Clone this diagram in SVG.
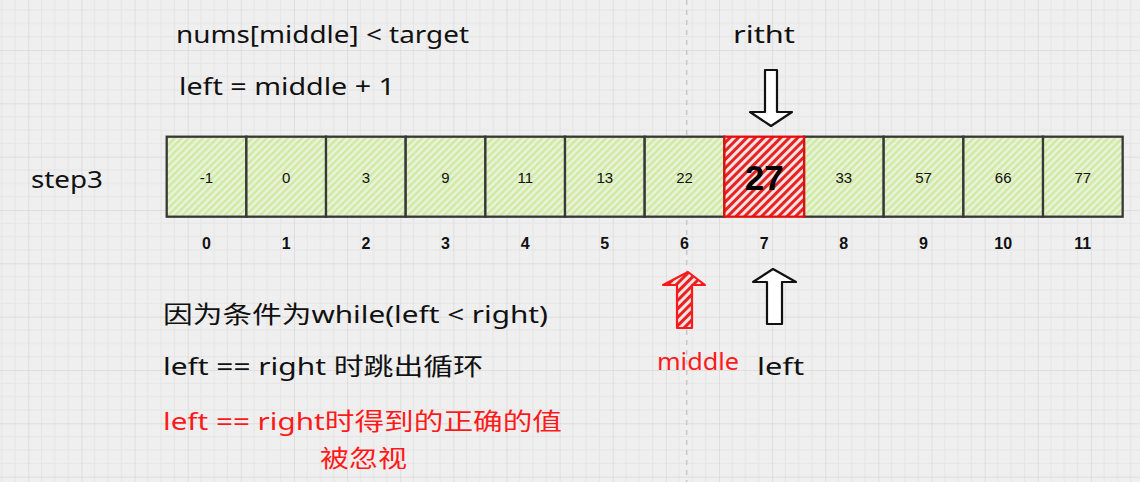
<svg xmlns="http://www.w3.org/2000/svg" width="1140" height="482" viewBox="0 0 1140 482">
<defs>
<pattern id="grid" patternUnits="userSpaceOnUse" x="28.3" y="50" width="53.13" height="53.33">
<rect width="53.13" height="53.33" fill="#efefef"/>
<path d="M13.28 0V53.33M26.56 0V53.33M39.85 0V53.33M0 13.33H53.13M0 26.67H53.13M0 40H53.13" stroke="#e5e5e5" stroke-width="1" fill="none"/>
<path d="M0 0V53.33M0 0H53.13" stroke="#d9d9d9" stroke-width="1.5" fill="none"/>
</pattern>
<pattern id="hg" patternUnits="userSpaceOnUse" width="5" height="5" patternTransform="rotate(45)">
<rect width="5" height="5" fill="#e9f2dc"/>
<rect width="2.4" height="5" fill="#cfea9f"/>
</pattern>
<pattern id="hr" patternUnits="userSpaceOnUse" width="6" height="6" patternTransform="rotate(45)">
<rect width="6" height="6" fill="#f5e2e2"/>
<rect width="3" height="6" fill="#e62222"/>
</pattern>
<style>
.t{font-family:"Noto Sans","Noto Sans CJK SC",sans-serif;font-size:24px;fill:#111}
.r{fill:#ff1a1a}
.v{font-family:"Liberation Sans",Arial,sans-serif;font-size:15px;fill:#111;text-anchor:middle}
.i{font-family:"Liberation Sans",Arial,sans-serif;font-size:16px;font-weight:bold;fill:#111;text-anchor:middle}
.c{fill:url(#hg);stroke:#383838;stroke-width:2.3}
</style>
</defs>
<rect width="1140" height="482" fill="url(#grid)"/>
<line x1="686.7" y1="0" x2="686.7" y2="482" stroke="#c8c8c8" stroke-width="1.5" stroke-dasharray="5,5"/>

<g id="header">
<text class="t" x="176" y="43" textLength="293" lengthAdjust="spacingAndGlyphs">nums[middle] &lt; target</text>
<text class="t" x="179" y="95" textLength="216" lengthAdjust="spacingAndGlyphs">left = middle + 1</text>
<text class="t" x="31" y="188" textLength="72" lengthAdjust="spacingAndGlyphs">step3</text>
</g>

<g id="array">
<g id="cell0"><rect class="c" x="166.7" y="136.7" width="79.67" height="80"/><text class="v" x="206.5" y="183">-1</text><text class="i" x="206.5" y="249">0</text></g>
<g id="cell1"><rect class="c" x="246.4" y="136.7" width="79.67" height="80"/><text class="v" x="286.2" y="183">0</text><text class="i" x="286.2" y="249">1</text></g>
<g id="cell2"><rect class="c" x="326" y="136.7" width="79.67" height="80"/><text class="v" x="365.9" y="183">3</text><text class="i" x="365.9" y="249">2</text></g>
<g id="cell3"><rect class="c" x="405.7" y="136.7" width="79.67" height="80"/><text class="v" x="445.5" y="183">9</text><text class="i" x="445.5" y="249">3</text></g>
<g id="cell4"><rect class="c" x="485.4" y="136.7" width="79.67" height="80"/><text class="v" x="525.2" y="183">11</text><text class="i" x="525.2" y="249">4</text></g>
<g id="cell5"><rect class="c" x="565" y="136.7" width="79.67" height="80"/><text class="v" x="604.8" y="183">13</text><text class="i" x="604.8" y="249">5</text></g>
<g id="cell6"><rect class="c" x="644.7" y="136.7" width="79.67" height="80"/><text class="v" x="684.5" y="183">22</text><text class="i" x="684.5" y="249">6</text></g>
<g id="cell8"><rect class="c" x="804" y="136.7" width="79.67" height="80"/><text class="v" x="843.8" y="183">33</text><text class="i" x="843.8" y="249">8</text></g>
<g id="cell9"><rect class="c" x="883.7" y="136.7" width="79.67" height="80"/><text class="v" x="923.5" y="183">57</text><text class="i" x="923.5" y="249">9</text></g>
<g id="cell10"><rect class="c" x="963.4" y="136.7" width="79.67" height="80"/><text class="v" x="1003.2" y="183">66</text><text class="i" x="1003.2" y="249">10</text></g>
<g id="cell11"><rect class="c" x="1043" y="136.7" width="79.67" height="80"/><text class="v" x="1082.8" y="183">77</text><text class="i" x="1082.8" y="249">11</text></g>
<g id="cell7"><rect x="724.4" y="136.7" width="79.67" height="80" fill="url(#hr)" stroke="#e01010" stroke-width="2.3"/><text x="764.2" y="190" font-family="Liberation Sans,Arial,sans-serif" font-size="35" font-weight="bold" fill="#000" text-anchor="middle">27</text><text class="i" x="764.2" y="249">7</text></g>
</g>

<g id="connectors">
<path id="right-arrow" d="M765 70H777V112H792L771 126L750 112H765Z" fill="#fff" stroke="#111" stroke-width="2.2" stroke-linejoin="round"/>
<path id="middle-arrow" d="M688 272L705 285H692V328H677V285H663Z" fill="url(#hr)" stroke="#ff1a1a" stroke-width="2.2" stroke-linejoin="round"/>
<path id="left-arrow" d="M773 269L796 282H782V324H767V282H753Z" fill="#fff" stroke="#111" stroke-width="2.2" stroke-linejoin="round"/>
</g>

<g id="labels">
<text class="t" x="733" y="43" textLength="62" lengthAdjust="spacingAndGlyphs">ritht</text>
<text class="t r" x="657" y="370" textLength="82" lengthAdjust="spacingAndGlyphs">middle</text>
<text class="t" x="757" y="375" textLength="47" lengthAdjust="spacingAndGlyphs">left</text>
</g>

<g id="notes">
<text class="t" x="163" y="323" textLength="385" lengthAdjust="spacingAndGlyphs">因为条件为while(left &lt; right)</text>
<text class="t" x="163" y="375" textLength="320" lengthAdjust="spacingAndGlyphs">left == right 时跳出循环</text>
<text class="t r" x="163" y="430" textLength="399" lengthAdjust="spacingAndGlyphs">left == right时得到的正确的值</text>
<text class="t r" x="320" y="467" textLength="87" lengthAdjust="spacingAndGlyphs">被忽视</text>
</g>
</svg>
